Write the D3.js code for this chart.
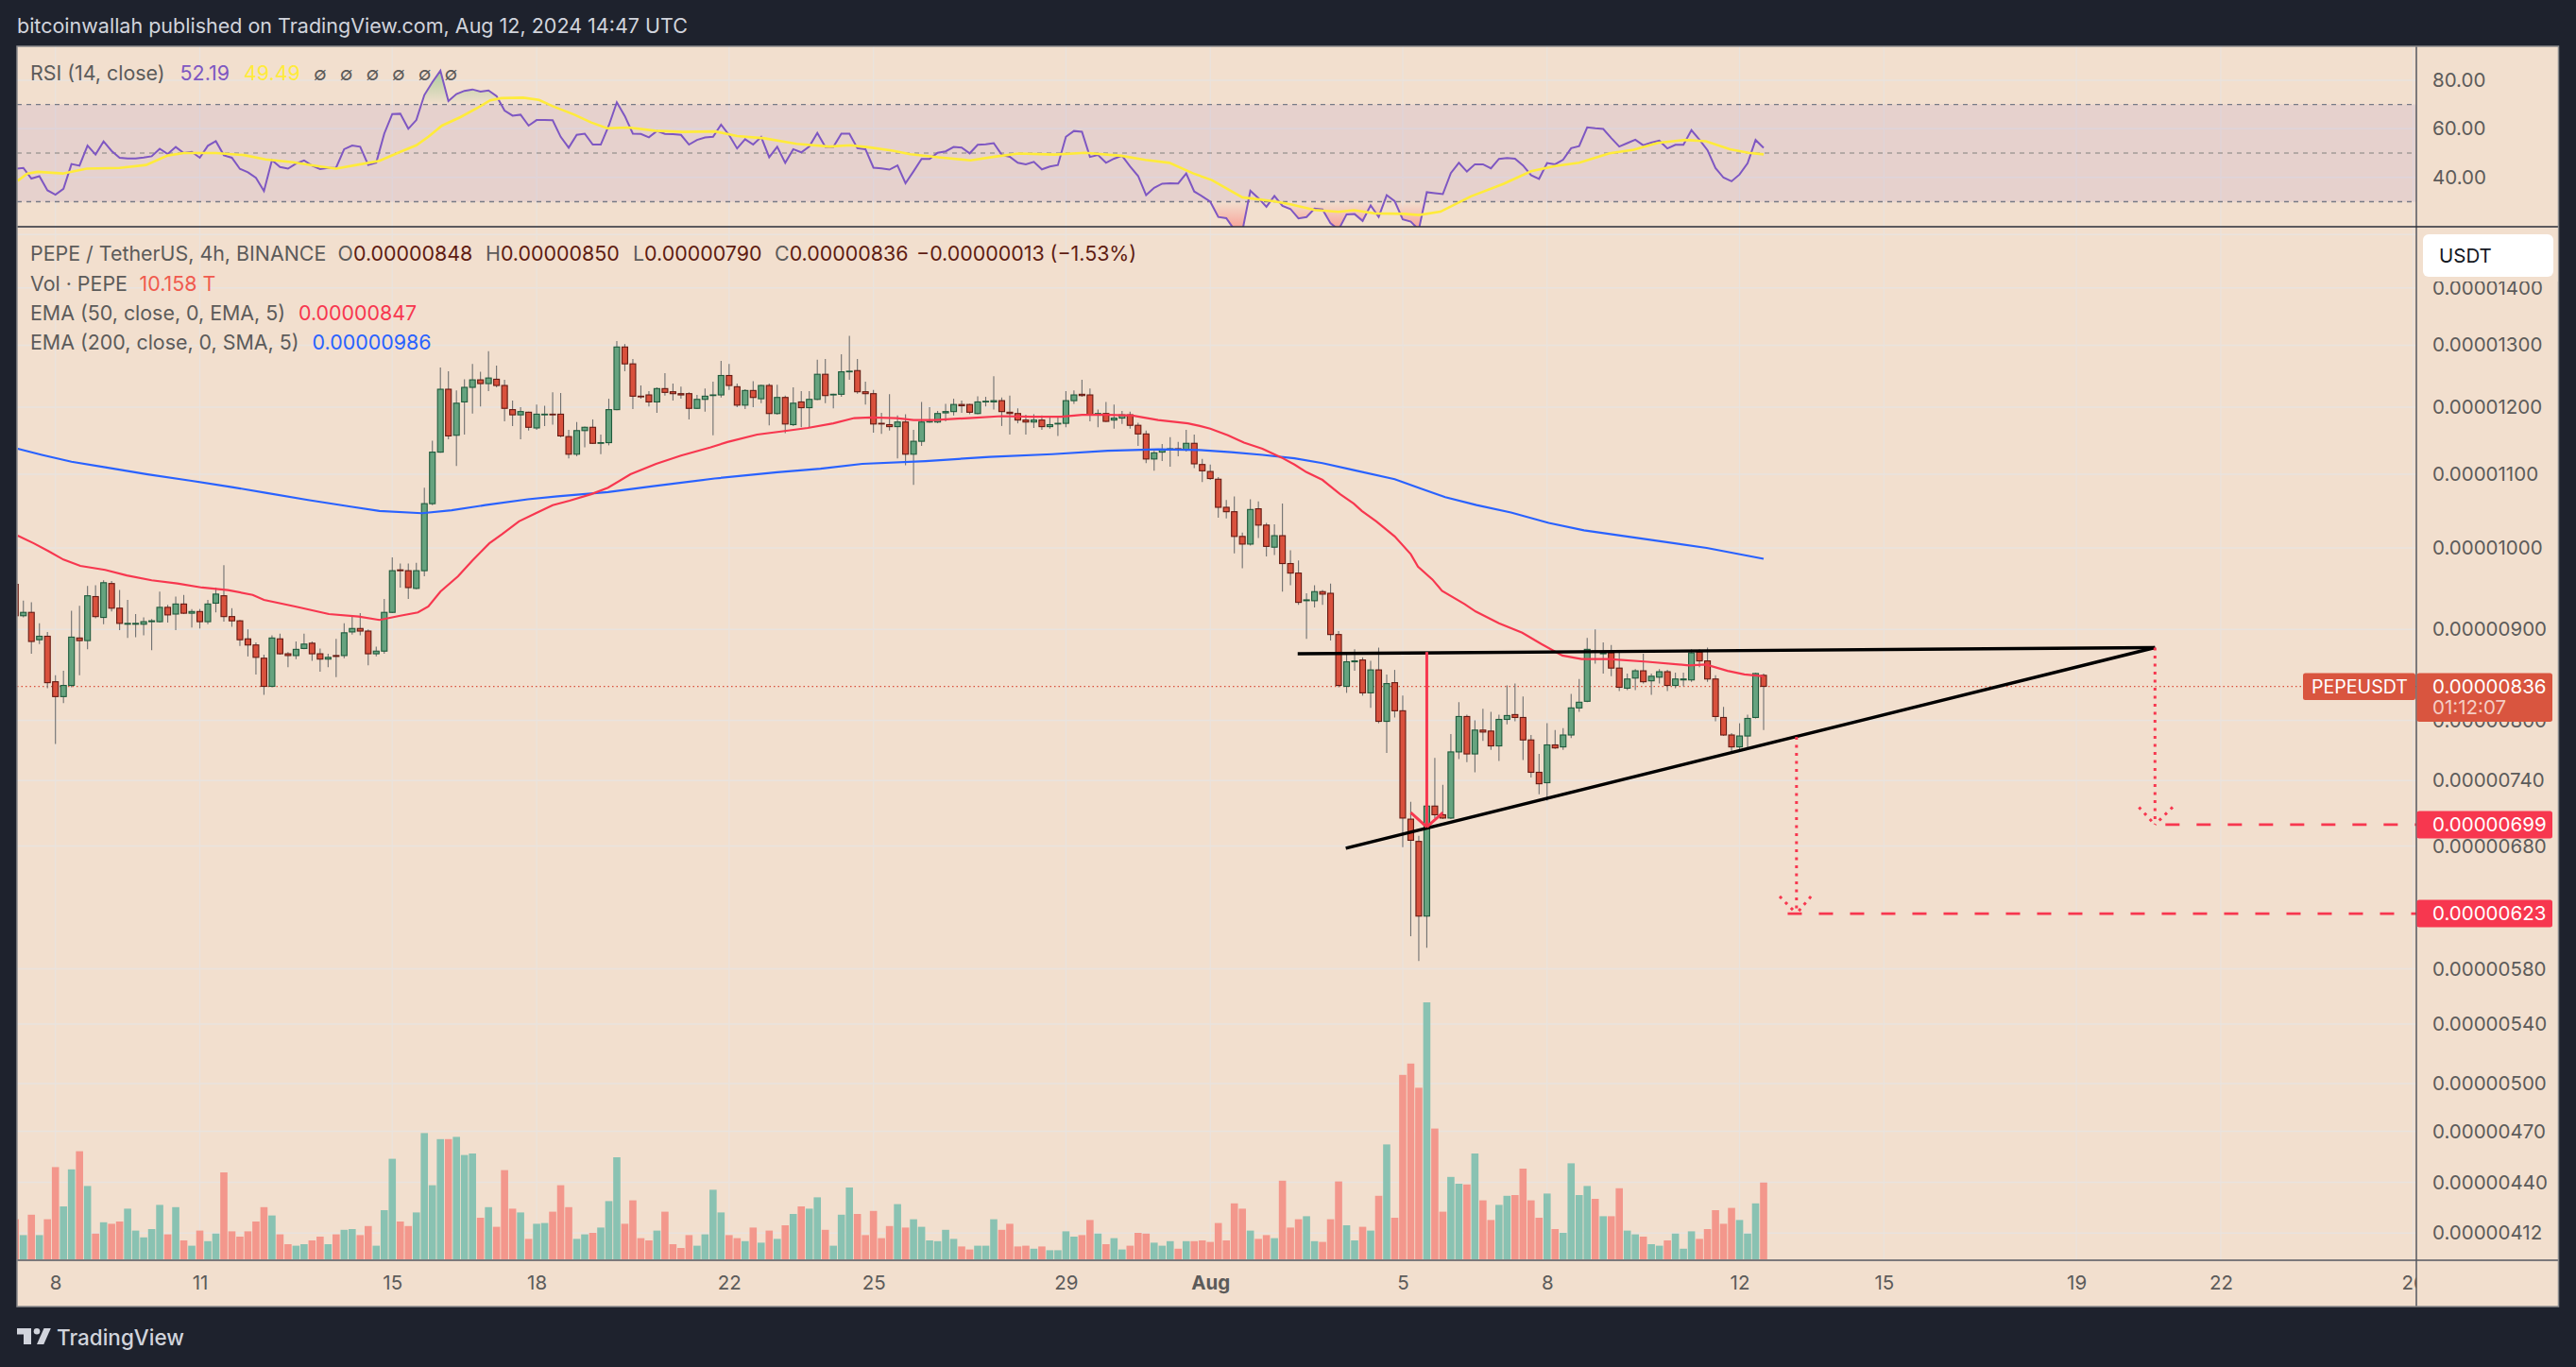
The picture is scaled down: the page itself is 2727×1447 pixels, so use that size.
<!DOCTYPE html>
<html>
<head>
<meta charset="utf-8">
<title>PEPE / TetherUS</title>
<script src="https://cdn.jsdelivr.net/npm/d3@7"></script>
<style>
  html, body { margin: 0; padding: 0; background: #1e222d; overflow: hidden; }
  svg { display: block; }
  text { font-family: Inter, "Noto Sans", sans-serif; }
</style>
</head>
<body>
<div id="chart"></div>
<script>
// Bar numbers count 4h candles from Jul 8 00:00, the first visible candle is -5
const firstBar = -5;

// Prices are in units of 0.00000001 USDT
const opens = [
  954,916,920,888,892,841,825,837,890,887,
  939,914,955,925,906,906,906,909,909,926,
  918,930,919,921,909,931,940,915,910,889,
  882,867,836,889,872,870,878,884,872,866,
  870,870,897,901,898,872,875,920,972,971,
  949,971,1059,1132,1228,1157,1208,1231,1243,1237,
  1244,1234,1196,1188,1192,1168,1188,1189,1189,1155,
  1129,1164,1169,1145,1146,1196,1297,1269,1217,1219,
  1208,1229,1224,1221,1221,1198,1212,1218,1219,1250,
  1232,1203,1226,1213,1234,1190,1215,1173,1208,1199,
  1212,1252,1219,1220,1256,1258,1224,1221,1175,1173,
  1170,1177,1129,1148,1177,1177,1191,1193,1204,1204,
  1190,1208,1208,1210,1192,1190,1180,1177,1180,1170,
  1174,1175,1210,1220,1219,1188,1190,1180,1183,1188,
  1172,1159,1122,1132,1136,1137,1135,1145,1114,1104,
  1093,1054,1048,1015,1005,1052,1030,1001,1016,980,
  968,934,934,945,943,894,836,863,865,829,
  854,799,840,810,704,684,621,716,708,705,
  768,804,766,790,789,774,801,806,803,780,
  748,738,775,773,785,813,820,875,872,873,
  856,834,845,853,842,846,852,837,843,843,
  874,864,844,803,785,773,784,803,848
];
const highs = [
  958,934,932,907,897,848,853,922,928,952,
  953,959,958,947,935,918,914,912,945,929,
  939,941,924,924,935,950,978,925,911,900,
  885,871,893,895,874,886,895,886,878,872,
  889,907,917,919,900,880,936,988,980,980,
  981,1081,1149,1263,1257,1226,1244,1269,1256,1290,
  1266,1243,1210,1200,1193,1204,1202,1223,1222,1165,
  1177,1170,1181,1158,1213,1307,1302,1277,1234,1225,
  1231,1254,1237,1232,1223,1219,1229,1240,1274,1269,
  1237,1228,1241,1235,1237,1235,1218,1231,1225,1225,
  1276,1277,1221,1285,1316,1277,1240,1227,1191,1220,
  1187,1189,1165,1208,1200,1194,1205,1213,1210,1205,
  1217,1216,1249,1215,1218,1198,1188,1189,1187,1186,
  1186,1225,1226,1243,1229,1196,1208,1204,1194,1193,
  1176,1164,1134,1144,1154,1147,1165,1158,1122,1114,
  1096,1064,1069,1020,1065,1062,1033,1031,1059,997,
  984,943,953,947,955,898,871,877,868,864,
  879,849,854,826,720,689,719,762,736,786,
  819,806,800,812,809,806,837,839,825,785,
  766,797,790,792,828,844,890,900,885,882,
  874,850,855,872,850,855,854,851,851,877,
  877,879,848,814,787,797,806,851,850
];
const lows = [
  914,914,872,883,834,776,818,835,848,877,
  913,906,921,899,890,891,893,876,908,908,
  899,918,902,901,906,920,909,903,881,869,
  849,827,835,871,857,866,877,864,852,857,
  846,867,894,893,859,869,872,919,950,936,
  948,964,1057,1131,1151,1112,1158,1190,1201,1225,
  1231,1178,1171,1151,1164,1165,1171,1173,1154,1123,
  1126,1139,1144,1129,1142,1195,1257,1197,1213,1201,
  1191,1218,1210,1213,1181,1197,1193,1157,1215,1227,
  1200,1197,1200,1206,1172,1188,1160,1171,1169,1168,
  1211,1206,1198,1216,1243,1221,1204,1161,1159,1164,
  1123,1113,1085,1141,1176,1175,1178,1187,1191,1189,
  1189,1201,1196,1171,1158,1175,1158,1168,1165,1167,
  1156,1169,1205,1216,1178,1169,1177,1167,1174,1167,
  1141,1116,1105,1119,1111,1126,1133,1109,1089,1092,
  1040,1039,993,974,1003,1013,989,991,945,953,
  929,889,926,929,887,835,829,853,826,813,
  797,767,803,679,605,586,596,705,704,704,
  761,758,748,779,770,759,796,799,760,743,
  727,721,771,770,782,809,819,861,850,847,
  831,832,832,839,827,839,831,834,836,841,
  857,841,799,784,766,770,772,802,790
];
const closes = [
  916,920,886,892,840,825,837,891,887,940,
  915,956,925,907,907,907,909,910,926,917,
  930,919,921,909,930,942,915,910,888,882,
  868,836,890,872,870,877,883,872,866,868,
  869,896,901,898,872,875,920,971,971,950,
  971,1059,1132,1228,1156,1206,1231,1243,1237,1246,
  1234,1198,1188,1193,1169,1189,1189,1188,1156,1129,
  1164,1169,1145,1146,1196,1297,1269,1217,1216,1208,
  1229,1223,1221,1219,1198,1212,1217,1219,1250,1234,
  1203,1226,1215,1234,1190,1215,1174,1206,1199,1212,
  1252,1218,1220,1256,1257,1224,1221,1174,1174,1170,
  1177,1129,1148,1177,1178,1190,1193,1204,1202,1192,
  1208,1209,1210,1193,1190,1180,1177,1180,1170,1173,
  1175,1210,1219,1218,1188,1190,1178,1183,1188,1172,
  1159,1122,1131,1135,1137,1136,1145,1115,1105,1094,
  1054,1048,1015,1005,1051,1030,1002,1016,980,968,
  932,935,945,942,894,837,863,864,829,854,
  799,839,810,705,685,621,716,708,705,768,
  804,766,790,788,774,801,805,803,780,748,
  737,775,772,785,813,819,877,874,873,856,
  835,844,853,841,847,852,837,844,844,873,
  864,844,804,785,773,784,802,850,836
];

// Volume in trillions of PEPE
const volumes = [
  5.3,3.2,5.9,3.2,5.3,12.2,7.0,11.9,14.3,9.7,
  3.4,4.9,4.7,5.0,6.7,3.8,2.9,4.0,7.2,3.3,
  6.9,2.5,1.8,3.8,2.4,3.4,11.5,3.7,3.0,3.7,
  5.0,6.9,5.8,3.3,2.0,1.8,2.0,2.5,3.0,2.0,
  3.3,3.9,4.0,3.2,4.4,1.8,6.5,13.3,5.0,4.4,
  6.2,16.7,9.8,15.9,15.9,16.2,13.8,14.0,5.5,6.9,
  4.3,11.8,6.7,6.2,2.7,4.7,4.8,6.3,9.8,6.9,
  2.7,3.3,3.5,4.2,7.7,13.5,4.7,7.8,2.8,2.5,
  3.8,6.3,2.0,1.5,3.2,1.8,3.3,9.2,6.2,3.2,
  2.8,2.4,4.2,2.2,3.8,2.7,4.5,6.0,7.0,6.7,
  8.2,3.9,1.8,5.9,9.5,6.0,3.2,6.4,2.8,4.4,
  7.3,4.2,5.3,4.3,2.5,2.4,3.9,2.7,1.7,1.3,
  1.8,1.8,5.3,3.9,4.7,1.7,1.8,1.4,1.7,1.2,
  1.2,3.7,3.0,3.2,5.2,3.4,2.0,2.8,1.3,1.8,
  3.5,3.4,2.2,1.8,2.4,1.4,2.4,2.4,2.5,2.3,
  4.8,2.5,7.4,6.7,3.8,2.7,3.2,2.8,10.4,4.2,
  5.3,5.7,2.4,2.3,5.3,10.3,4.5,2.5,4.3,3.8,
  8.4,15.2,5.5,24.4,25.9,22.7,34.0,17.3,6.3,10.9,
  10.0,9.9,14.0,7.8,5.2,7.2,8.4,8.5,12.0,7.8,
  5.5,8.7,4.0,3.5,12.7,8.5,9.7,8.0,5.7,5.7,
  9.4,3.8,3.3,3.0,2.0,1.8,2.5,3.4,1.4,3.7,
  2.7,4.0,6.5,4.7,6.8,5.2,3.4,7.4,10.158
];

const rsiValues = [
  43.5,43.9,39.5,40.5,34.7,32.9,35.3,45.5,44.8,53.1,
  49.4,54.8,50.9,48.1,47.8,47.8,48.2,48.7,51.8,49.6,
  52.5,50,50.5,48.1,53,54.9,49.1,48.1,43.5,42.1,
  39.8,34.4,47.1,44.3,43.6,45.7,47,44.8,43.4,43.9,
  44,51.6,53.1,52.6,45.1,46.1,58,66.1,66.2,60,
  63.6,73.9,79.2,83.9,71.4,74.3,75.6,76.2,75.3,75.8,
  73.5,67.5,65.4,65.8,61.3,63.6,63.6,63.5,56.7,52.2,
  57.5,58,53.5,53.5,61.3,70.9,65.2,58,57.9,56.5,
  59.1,57.9,57.8,57.5,53.5,55.4,56.4,56.7,61.7,57.4,
  51.9,55.7,53.5,56.6,48.3,52.6,46,51.6,50.3,52.7,
  58.3,52.5,52.5,58,58,52,51.6,44,43.7,43.2,
  44.9,37.6,42.5,47.6,47.6,50.1,50.7,52.5,52.3,49.9,
  53.4,53.6,54.1,49.3,48.5,46,45.4,46.4,43.3,44.5,
  45.1,56.7,59.1,58.8,48.4,49.2,46,47.7,48.9,44.5,
  40.6,32.7,35.7,37.4,37.6,37.5,41.6,34.2,32.2,30,
  23.7,23.2,18.5,17.9,34.5,31.5,27.9,32.4,28.3,27,
  23.1,23.7,27.2,26.8,21.1,18.5,24.8,24.9,22.1,28.5,
  23.7,32.7,30.2,22.7,21.8,18.5,33.9,33.5,33.1,41.8,
  46,42.4,45.4,45.4,43.7,47.6,48,47.7,44.9,40.9,
  39.4,45.9,45.4,47.3,52,52.9,60.6,60.2,59.9,56.2,
  52.7,54.1,55.5,53.2,54.3,55.1,51.9,53.4,53.4,59.4,
  55.5,51.2,43.8,39.9,38.4,41.2,45.8,55.4,52.19
];

// The smooth lines are read at the bars where they bend
const rsiMaBars = [-4.7,-3.5,-2.2,0.9,3.9,8,11.3,14,16,20,23.5,26.2,29.6,32.6,35,37.7,40.4,43,45,46.5,48.2,50.5,52.9,54.2,55.6,58.3,60.3,62,64.7,66.8,68.8,71.5,74.8,78.2,82.3,85,88.4,92.4,96.5,99.1,101.4,104.4,106.6,110.4,114.1,117.1,120.1,124.6,128.4,132.9,135.9,138.9,141.9,144.2,148,151.9,154,157,160,161.9,164.5,168.2,170,172.7,176.5,180.6,184,187,190,193.8,196.8,199.8,203.2,205.8,208.8,211.1,213];
const rsiMaValues = [38.6,41.6,42.3,41.6,43.6,43.9,45.1,49,50,50,49.2,47.4,46.2,44.7,43.6,45.2,46.8,50.5,53.2,56.7,61.3,64.8,69.1,71.7,72.6,72.8,71.9,69.3,65.8,62.6,60.2,60.5,59.2,58.7,58.9,57,56.1,53.8,52.7,53.2,52.4,51,49.5,48.2,47,48.5,49.8,49.4,50.1,48.9,47.2,46,41.6,38.9,31.8,30.2,28.9,26.6,25.8,26.5,25.2,25,24.5,25.9,32.2,37.4,42.5,44.7,46,49.9,51.4,54.2,55.4,54.9,51.6,50.1,49.49];

const ema50Bars = [-4.7,-2.7,-0.9,1,3.1,6.2,8.9,12,15.2,18.3,21.5,24.6,26,29.9,34.1,37.8,40.4,43,45.2,46.5,48,50.2,52,54.1,55.7,57.8,59.9,62,64.1,66.8,68.9,71.7,74.9,78,81.7,83.8,87.5,90.7,93.8,97,99.6,101.7,104.9,107,109.6,113.8,118,121.7,125.4,128,131.2,134.3,137.5,141.2,142.7,144,146.2,148.2,150.5,152.9,154.5,156,158,160.2,161.9,162.9,164.7,167,169,169.9,171.7,172.9,175.7,177.1,180,182.9,185.3,187.9,190.3,193.7,198.5,203.7,205.8,208.5,210.6,213];
const ema50Values = [1016,1006,996,985,977,972,965,959,955,950,947,941,935,927,918,915,911,916,920,927,945,964,984,1006,1018,1035,1046,1057,1063,1072,1081,1100,1115,1127,1139,1147,1158,1163,1168,1175,1183,1184,1183,1180,1180,1183,1186,1185,1185,1188,1188,1187,1180,1175,1171,1167,1157,1146,1137,1124,1114,1103,1092,1072,1059,1049,1035,1015,992,976,960,946,930,921,907,896,883,870,866,866,863,859,860,853,849,847];

const ema200Bars = [-4.7,-1.7,2,6.2,11.5,16.8,22,26.2,31.5,36.8,40.4,45.7,49.4,53.6,58.9,62.6,68.9,74.3,82.2,90,95.4,100.6,108.5,116.5,124.3,131.2,137.5,142.7,146.6,150.5,154.5,158,161.9,167,170.2,173.3,177.2,181.5,186.2,190.6,197.2,205.9,213];
const ema200Values = [1137,1128,1118,1110,1100,1091,1082,1074,1064,1055,1049,1046,1050,1057,1065,1069,1075,1083,1094,1103,1108,1115,1119,1125,1129,1134,1136,1135,1132,1128,1123,1116,1106,1093,1080,1068,1057,1047,1033,1023,1013,1000,986];

// Axis labels
const dayBars = [0,18,42,60,84,102,126,144,168,186,210,228,252,270,294];
const dayLabels = ["8","11","15","18","22","25","29","Aug","5","8","12","15","19","22","26"];
const priceTicks = [1400,1300,1200,1100,1000,900,800,740,680,580,540,500,470,440,412];
const priceGridOnly = [1500];
const rsiTicks = [80,60,40];

// Hand drawn pattern on the chart: [bar, price] pairs
const resistanceBars = [154.9,261.8];
const resistancePrices = [872,879];
const supportBars = [160.9,261.8];
const supportPrices = [678,879];
const bigArrowBars = [171,171];
const bigArrowPrices = [874,697];
const bigArrowLeftBars = [169,171];
const bigArrowLeftPrices = [710,697];
const bigArrowRightBars = [173,171];
const bigArrowRightPrices = [710,697];
const targets = [699,623];
const targetStartBars = [263.1,216];
const dropBars = [261.8,217.1];
const dropFromPrices = [879,783];
const dropWingLeftBars = [259.8,215];
const dropWingRightBars = [264,218.9];
const dropWingPrices = [715,637];

const lastPrice = 836;

// Page geometry
const width = 2727;
const height = 1447;
const plotLeft = 18;
const plotRight = 2558;
const axisRight = 2708.5;
const plotTop = 49;
const paneSplit = 240;
const plotBottom = 1334;
const frameBottom = 1383;

const paper = "#f2dfce";
const gridColor = "#e9e3de";
const textColor = "#5c5b5a";
const redLine = "#f7374f";
const blueLine = "#2962ff";
const candleUp = "#66a37f";
const candleUpEdge = "#1f5a3c";
const candleDown = "#d9513d";
const candleDownEdge = "#661a12";

const bars = opens.map((o, i) => ({
    bar: firstBar + i, open: o, high: highs[i], low: lows[i], close: closes[i],
    volume: volumes[i], rsi: rsiValues[i]
}));

// Scales
const x = d3.scaleLinear().domain([0, 213]).range([58.7, 1867]);
const y = d3.scaleLog().domain([1400, 412]).range([304.8, 1305.3]);
const yRsi = d3.scaleLinear().domain([70, 30]).range([110.6, 213.5]);
const yVol = d3.scaleLinear().domain([0, 34]).range([1333, 1061]);

const svg = d3.select("#chart").append("svg")
    .attr("width", width)
    .attr("height", height);

const defs = svg.append("defs");
defs.append("clipPath").attr("id", "rsi-clip").append("rect")
    .attr("x", plotLeft).attr("y", plotTop)
    .attr("width", plotRight - plotLeft).attr("height", paneSplit - plotTop);
defs.append("clipPath").attr("id", "main-clip").append("rect")
    .attr("x", plotLeft).attr("y", paneSplit)
    .attr("width", plotRight - plotLeft + 1).attr("height", plotBottom - paneSplit);
defs.append("clipPath").attr("id", "over-clip").append("rect")
    .attr("x", plotLeft).attr("y", plotTop)
    .attr("width", plotRight - plotLeft).attr("height", yRsi(70) - plotTop);
defs.append("clipPath").attr("id", "under-clip").append("rect")
    .attr("x", plotLeft).attr("y", yRsi(30))
    .attr("width", plotRight - plotLeft).attr("height", paneSplit - yRsi(30));
defs.append("clipPath").attr("id", "time-clip").append("rect")
    .attr("x", plotLeft).attr("y", plotBottom)
    .attr("width", plotRight - plotLeft).attr("height", frameBottom - plotBottom);

const overGrad = defs.append("linearGradient").attr("id", "over-grad")
    .attr("gradientUnits", "userSpaceOnUse")
    .attr("x1", 0).attr("x2", 0).attr("y1", yRsi(85)).attr("y2", yRsi(70));
overGrad.append("stop").attr("offset", 0).attr("stop-color", "#4caf50").attr("stop-opacity", 0.45);
overGrad.append("stop").attr("offset", 1).attr("stop-color", "#4caf50").attr("stop-opacity", 0);
const underGrad = defs.append("linearGradient").attr("id", "under-grad")
    .attr("gradientUnits", "userSpaceOnUse")
    .attr("x1", 0).attr("x2", 0).attr("y1", yRsi(30)).attr("y2", paneSplit);
underGrad.append("stop").attr("offset", 0).attr("stop-color", "#ff5252").attr("stop-opacity", 0);
underGrad.append("stop").attr("offset", 1).attr("stop-color", "#ff5252").attr("stop-opacity", 0.4);

// Background and panes
svg.append("rect").attr("x", plotLeft).attr("y", plotTop)
    .attr("width", axisRight - plotLeft).attr("height", frameBottom - plotTop)
    .attr("fill", paper);

// Grid
const grid = svg.append("g").attr("fill", "none").attr("stroke", gridColor).attr("stroke-width", 1.5);
grid.selectAll(".v").data(dayBars).enter().append("line")
    .attr("x1", d => x(d)).attr("x2", d => x(d))
    .attr("y1", plotTop).attr("y2", plotBottom)
    .attr("stroke-width", 1.2)
    .style("display", d => x(d) > plotRight ? "none" : null);
grid.selectAll(".h").data(priceTicks.concat(priceGridOnly)).enter().append("line")
    .attr("x1", plotLeft).attr("x2", plotRight)
    .attr("y1", d => y(d)).attr("y2", d => y(d));
grid.selectAll(".r").data(rsiTicks).enter().append("line")
    .attr("x1", plotLeft).attr("x2", plotRight)
    .attr("y1", d => yRsi(d)).attr("y2", d => yRsi(d));

// RSI pane
const rsiPane = svg.append("g").attr("clip-path", "url(#rsi-clip)");
rsiPane.append("rect")
    .attr("x", plotLeft).attr("y", yRsi(70))
    .attr("width", plotRight - plotLeft).attr("height", yRsi(30) - yRsi(70))
    .attr("fill", "#7e57c2").attr("fill-opacity", 0.1);
[70, 50, 30].forEach(level => {
    rsiPane.append("line")
        .attr("x1", plotLeft).attr("x2", plotRight)
        .attr("y1", yRsi(level)).attr("y2", yRsi(level))
        .attr("stroke", level === 50 ? "#a39c98" : "#787b86")
        .attr("stroke-width", 1.4)
        .attr("stroke-dasharray", "5 5");
});

const rsiLine = d3.line().x(d => x(d.bar)).y(d => yRsi(d.rsi));
rsiPane.append("path").datum(bars)
    .attr("clip-path", "url(#over-clip)")
    .attr("fill", "url(#over-grad)")
    .attr("d", d3.area().x(d => x(d.bar)).y0(yRsi(70)).y1(d => yRsi(d.rsi)));
rsiPane.append("path").datum(bars)
    .attr("clip-path", "url(#under-clip)")
    .attr("fill", "url(#under-grad)")
    .attr("d", d3.area().x(d => x(d.bar)).y0(yRsi(30)).y1(d => yRsi(d.rsi)));
rsiPane.append("path").datum(bars)
    .attr("fill", "none").attr("stroke", "#7e57c2").attr("stroke-width", 2)
    .attr("d", rsiLine);
rsiPane.append("path").datum(rsiMaBars)
    .attr("fill", "none").attr("stroke", "#ffeb3b").attr("stroke-width", 2.6)
    .attr("d", d3.line().x(d => x(d)).y((d, i) => yRsi(rsiMaValues[i])));

// Main pane
const mainPane = svg.append("g").attr("clip-path", "url(#main-clip)");

// Volume bars sit behind the candles
mainPane.append("g").selectAll("rect").data(bars).enter().append("rect")
    .attr("x", d => x(d.bar) - 3.8)
    .attr("width", 7.6)
    .attr("y", d => yVol(d.volume))
    .attr("height", d => yVol(0) - yVol(d.volume))
    .attr("fill", d => d.close >= d.open ? "#89c2b2" : "#f3978c");

// Last price line
mainPane.append("line")
    .attr("x1", plotLeft).attr("x2", plotRight)
    .attr("y1", y(lastPrice)).attr("y2", y(lastPrice))
    .attr("stroke", "#d9513d").attr("stroke-width", 1.2)
    .attr("stroke-dasharray", "1.5 3");

// Candles
const candles = mainPane.append("g").selectAll("g").data(bars).enter().append("g");
candles.append("line")
    .attr("x1", d => x(d.bar)).attr("x2", d => x(d.bar))
    .attr("y1", d => y(d.high)).attr("y2", d => y(d.low))
    .attr("stroke", "#707070").attr("stroke-width", 1.1);
candles.append("rect")
    .attr("x", d => x(d.bar) - 3)
    .attr("width", 6)
    .attr("y", d => y(Math.max(d.open, d.close)))
    .attr("height", d => Math.max(Math.abs(y(d.open) - y(d.close)), 0.6))
    .attr("fill", d => d.close >= d.open ? candleUp : candleDown)
    .attr("stroke", d => d.close >= d.open ? candleUpEdge : candleDownEdge)
    .attr("stroke-width", 1.1);

// Moving averages
mainPane.append("path").datum(ema200Bars)
    .attr("fill", "none").attr("stroke", blueLine).attr("stroke-width", 2.2)
    .attr("d", d3.line().x(d => x(d)).y((d, i) => y(ema200Values[i])));
mainPane.append("path").datum(ema50Bars)
    .attr("fill", "none").attr("stroke", redLine).attr("stroke-width", 2.2)
    .attr("d", d3.line().x(d => x(d)).y((d, i) => y(ema50Values[i])));

// Drawings on top of the price
const segment = d3.line().x(d => x(d[0])).y(d => y(d[1]));
function drawSegment(barsPair, pricesPair, color, w, dash) {
    mainPane.append("path")
        .datum(d3.zip(barsPair, pricesPair))
        .attr("fill", "none")
        .attr("stroke", color)
        .attr("stroke-width", w)
        .attr("stroke-dasharray", dash || null)
        .attr("d", segment);
}
drawSegment(resistanceBars, resistancePrices, "#000", 3.4);
drawSegment(supportBars, supportPrices, "#000", 3.4);
drawSegment(bigArrowBars, bigArrowPrices, redLine, 3);
drawSegment(bigArrowLeftBars, bigArrowLeftPrices, redLine, 3);
drawSegment(bigArrowRightBars, bigArrowRightPrices, redLine, 3);
targets.forEach((t, i) => {
    drawSegment([targetStartBars[i], x.invert(plotRight)], [t, t], redLine, 2.7, "15 18");
    drawSegment([dropBars[i], dropBars[i]], [dropFromPrices[i], t], redLine, 3, "3 5.5");
    drawSegment([dropWingLeftBars[i], dropBars[i]], [dropWingPrices[i], t], redLine, 3, "3 5.5");
    drawSegment([dropWingRightBars[i], dropBars[i]], [dropWingPrices[i], t], redLine, 3, "3 5.5");
});

// Frame lines
const frame = svg.append("g").attr("stroke", "#55575f").attr("fill", "none");
frame.append("line").attr("x1", plotRight).attr("x2", plotRight)
    .attr("y1", plotTop).attr("y2", frameBottom).attr("stroke-width", 1.5);
frame.append("line").attr("x1", plotLeft).attr("x2", axisRight)
    .attr("y1", paneSplit).attr("y2", paneSplit).attr("stroke", "#2a2e39").attr("stroke-width", 1.5);
frame.append("line").attr("x1", plotLeft).attr("x2", axisRight)
    .attr("y1", plotBottom).attr("y2", plotBottom).attr("stroke-width", 1.5);
frame.append("rect").attr("x", plotLeft).attr("y", plotTop)
    .attr("width", axisRight - plotLeft).attr("height", frameBottom - plotTop)
    .attr("stroke", "#8a8a8c").attr("stroke-width", 1.5);

// Axes
function styleAxis(g) {
    g.select(".domain").remove();
    g.selectAll(".tick line").remove();
    g.selectAll("text")
        .attr("fill", textColor)
        .style("font-family", "Inter, 'Noto Sans', sans-serif")
        .style("font-size", "20.5px");
}
svg.append("g")
    .attr("transform", `translate(2575,0)`)
    .call(d3.axisRight(y).tickValues(priceTicks).tickSize(0).tickPadding(0)
        .tickFormat(d => (d / 1e8).toFixed(8)))
    .call(styleAxis);
svg.append("g")
    .attr("transform", `translate(2575,0)`)
    .call(d3.axisRight(yRsi).tickValues(rsiTicks).tickSize(0).tickPadding(0)
        .tickFormat(d => d.toFixed(2)))
    .call(styleAxis);
const xAxis = svg.append("g")
    .attr("clip-path", "url(#time-clip)")
    .append("g")
    .attr("transform", `translate(0,${plotBottom + 16})`)
    .call(d3.axisBottom(x).tickValues(dayBars).tickSize(0).tickPadding(0)
        .tickFormat((d, i) => dayLabels[i]))
    .call(styleAxis);
xAxis.selectAll("text").attr("font-weight", (d, i) => dayLabels[i] === "Aug" ? 700 : 400);

// Price tags on the axis
function priceTag(x0, x1, y0, y1, color) {
    svg.append("rect")
        .attr("x", x0).attr("y", y0)
        .attr("width", x1 - x0).attr("height", y1 - y0)
        .attr("rx", 2.5)
        .attr("fill", color);
}
function label(parent, tx, ty, str, color, size, weight) {
    return parent.append("text")
        .attr("x", tx).attr("y", ty)
        .attr("dy", "0.35em")
        .attr("fill", color)
        .attr("font-size", size || 20.5)
        .attr("font-weight", weight || 400)
        .text(str);
}
priceTag(2438, 2557, 712.6, 741, "#d9553f");
label(svg, 2447, 727, "PEPEUSDT", "#fff", 19.6);
priceTag(2558.5, 2702, 712.6, 764, "#d9553f");
label(svg, 2575, 727, (lastPrice / 1e8).toFixed(8), "#fff");
label(svg, 2575, 749, "01:12:07", "#f5cdc4");
targets.forEach(t => {
    priceTag(2558.5, 2702, y(t) - 14.5, y(t) + 14.5, redLine);
    label(svg, 2575, y(t), (t / 1e8).toFixed(8), "#fff");
});

// Currency button, the strip around it hides the top of the highest tick
svg.append("rect")
    .attr("x", 2559.5).attr("y", 241)
    .attr("width", 148).attr("height", 57)
    .attr("fill", paper);
svg.append("rect")
    .attr("x", 2565).attr("y", 248)
    .attr("width", 138).attr("height", 45)
    .attr("rx", 6).attr("fill", "#fff");
label(svg, 2582, 270.5, "USDT", "#131722", 20.5);

// Legends
const legend = svg.append("g");
const darkRed = "#5e1c12";
const legendSize = 21.4;
label(svg, 18, 27.5, "bitcoinwallah published on TradingView.com, Aug 12, 2024 14:47 UTC", "#d1d4dc", 21.5);

label(legend, 32, 78, "RSI (14, close)", textColor, legendSize);
label(legend, 190.6, 78, "52.19", "#7e57c2", legendSize);
label(legend, 258, 78, "49.49", "#ffeb3b", legendSize);
d3.range(6).forEach(i => label(legend, 332 + i * 27.7, 78, "∅", textColor, 20));

label(legend, 32, 269, "PEPE / TetherUS, 4h, BINANCE", textColor, legendSize);
[[357.6, "O", "0.00000848"], [514, "H", "0.00000850"], [670, "L", "0.00000790"], [820, "C", "0.00000836"]]
    .forEach(d => {
        const t = label(legend, d[0], 269, d[1], textColor, legendSize);
        t.append("tspan").attr("fill", darkRed).text(d[2]);
    });
label(legend, 970, 269, "−0.00000013 (−1.53%)", darkRed, legendSize);
label(legend, 32, 301, "Vol · PEPE", textColor, legendSize);
label(legend, 147.5, 301, "10.158 T", "#f05a4e", legendSize);
label(legend, 32, 332, "EMA (50, close, 0, EMA, 5)", textColor, legendSize);
label(legend, 316, 332, "0.00000847", redLine, legendSize);
label(legend, 32, 363, "EMA (200, close, 0, SMA, 5)", textColor, legendSize);
label(legend, 330.6, 363, "0.00000986", blueLine, legendSize);

// TradingView mark in the footer
const logo = svg.append("g").attr("fill", "#d1d4dc");
logo.append("path").attr("d", "M18 1406H33V1423H25V1412.5H18Z");
logo.append("circle").attr("cx", 39).attr("cy", 1409.3).attr("r", 3.3);
logo.append("path").attr("d", "M46.5 1406H53.8L46.3 1423H39Z");
label(svg, 60, 1416, "TradingView", "#d1d4dc", 22.5, 500);
</script>
</body>
</html>
